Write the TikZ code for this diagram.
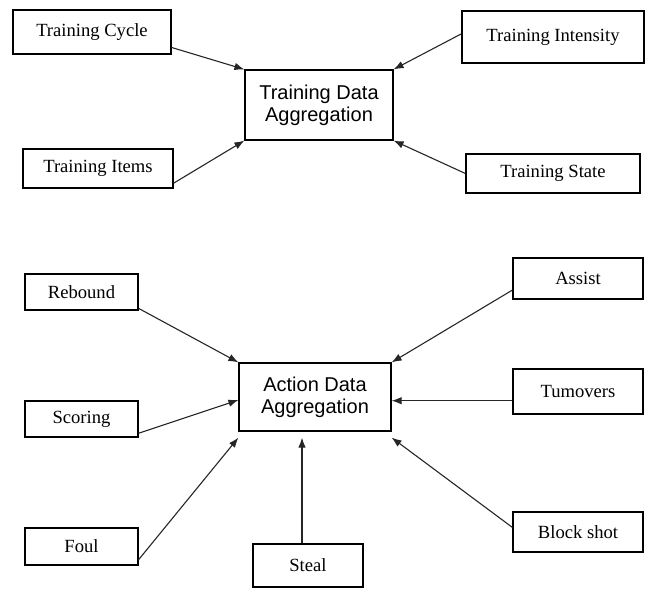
\documentclass[tikz,border=0pt]{standalone}
\usepackage{fontspec}
\setmainfont{Liberation Serif}
\newfontfamily\hubfont{Liberation Sans}
\usetikzlibrary{arrows.meta}

\begin{document}
\begin{tikzpicture}[x=1pt,y=-1pt,
    item/.style={draw,line width=1.2pt,inner sep=0pt,font=\fontsize{18.6}{20}\selectfont},
    hub/.style={draw,line width=1.2pt,inner sep=0pt,align=center,font=\hubfont\fontsize{20}{22}\selectfont},
    arr/.style={-{Latex[length=10pt,width=7.5pt]},line width=1.1pt,black!85}]
    \useasboundingbox (0,0) rectangle (646,592);
    % training part
    \node[hub,minimum width=148pt,minimum height=70pt] (tda) at (319,105) {Training Data\\Aggregation};
    \node[item,minimum width=158pt,minimum height=44pt] (cyc) at (92,32) {Training Cycle};
    \node[item,minimum width=150pt,minimum height=39pt] (itm) at (98,168.5) {Training Items};
    \node[item,minimum width=182pt,minimum height=52pt] (ints) at (553,37) {Training Intensity};
    \node[item,minimum width=174pt,minimum height=39pt] (stat) at (553,173.5) {Training State};
    \draw[arr] (cyc.-11) -- (tda.north west);
    \draw[arr] (itm.-11) -- (tda.south west);
    \draw[arr] (ints.178) -- (tda.north east);
    \draw[arr] (stat.west) -- (tda.south east);
    % action part
    \node[hub,minimum width=152pt,minimum height=68pt] (ada) at (315,397) {Action Data\\Aggregation};
    \node[item,minimum width=113pt,minimum height=36pt] (reb) at (81.5,292) {Rebound};
    \node[item,minimum width=113pt,minimum height=36pt] (sco) at (81.5,419) {Scoring};
    \node[item,minimum width=113pt,minimum height=37pt] (foul) at (81.5,546.5) {Foul};
    \node[item,minimum width=110pt,minimum height=43pt] (stl) at (308,565.5) {Steal};
    \node[item,minimum width=130pt,minimum height=41pt] (ast) at (578,278.5) {Assist};
    \node[item,minimum width=130pt,minimum height=45pt] (tum) at (578,391.5) {Tumovers};
    \node[item,minimum width=130pt,minimum height=40pt] (blk) at (578,532) {Block shot};
    \draw[arr] (reb.-16) -- (ada.north west);
    \draw[arr] (sco.-14) -- ([yshift=-3pt]ada.west);
    \draw[arr] (foul.-13) -- ([yshift=-6pt]ada.south west);
    \draw[arr] ([xshift=-6pt]stl.north) -- ([xshift=-13pt,yshift=-6pt]ada.south);
    \draw[arr] (ast.190) -- (ada.north east);
    \draw[arr] (tum.188) -- (tum.188 -| ada.east);
    \draw[arr] (blk.176) -- ([yshift=-6pt]ada.south east);
\end{tikzpicture}
\end{document}
